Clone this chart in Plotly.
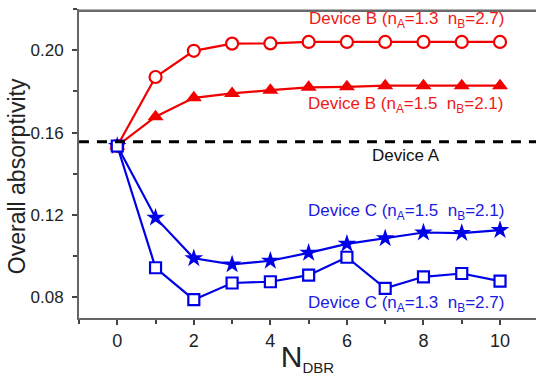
import plotly.graph_objects as go

n_dbr = [0, 1, 2, 3, 4, 5, 6, 7, 8, 9, 10]
device_a = 0.1555
b_13_27 = [0.1535, 0.1870, 0.1997, 0.2032, 0.2033, 0.2040, 0.2040, 0.2040, 0.2040, 0.2040, 0.2040]
b_15_21 = [0.1535, 0.1677, 0.1769, 0.1790, 0.1806, 0.1820, 0.1822, 0.1828, 0.1828, 0.1828, 0.1828]
c_15_21 = [0.1535, 0.1187, 0.0990, 0.0960, 0.0978, 0.1016, 0.1060, 0.1087, 0.1115, 0.1112, 0.1127]
c_13_27 = [0.1535, 0.0944, 0.0789, 0.0870, 0.0876, 0.0908, 0.0995, 0.0844, 0.0900, 0.0916, 0.0879]

labels = [
    ("Device B (n<sub>A</sub>=1.3\u00a0 n<sub>B</sub>=2.7)", 7.55, 0.2145, "#f01818"),
    ("Device B (n<sub>A</sub>=1.5\u00a0 n<sub>B</sub>=2.1)", 7.53, 0.1733, "#f01818"),
    ("Device A", 7.55, 0.1487, "#111111"),
    ("Device C (n<sub>A</sub>=1.5\u00a0 n<sub>B</sub>=2.1)", 7.55, 0.1214, "#1a1ae0"),
    ("Device C (n<sub>A</sub>=1.3\u00a0 n<sub>B</sub>=2.7)", 7.55, 0.0768, "#1a1ae0"),
]

RED = "#f00000"
BLUE = "#0000e6"
FONT = "Liberation Sans, Arial, sans-serif"

fig = go.Figure()
fig.add_hline(y=device_a, line=dict(color="black", width=3, dash="10px,8px"))

fig.add_trace(go.Scatter(x=n_dbr, y=b_15_21, mode="lines+markers",
                         line=dict(color=RED, width=2.2),
                         marker=dict(symbol="triangle-up", size=14, color=RED, line=dict(width=0))))
fig.add_trace(go.Scatter(x=n_dbr, y=b_13_27, mode="lines+markers",
                         line=dict(color=RED, width=2.2),
                         marker=dict(symbol="circle", size=12, color="white", line=dict(color=RED, width=2.2))))
fig.add_trace(go.Scatter(x=n_dbr, y=c_15_21, mode="lines+markers",
                         line=dict(color=BLUE, width=2.2),
                         marker=dict(symbol="star", size=14, color=BLUE, line=dict(width=0))))
fig.add_trace(go.Scatter(x=n_dbr, y=c_13_27, mode="lines+markers",
                         line=dict(color=BLUE, width=2.2),
                         marker=dict(symbol="square", size=11, color="white", line=dict(color=BLUE, width=2.2))))

for text, x, y, col in labels:
    fig.add_annotation(x=x, y=y, xref="x", yref="y", text=text, showarrow=False,
                       font=dict(family=FONT, size=17, color=col), xanchor="center", yanchor="middle")

fig.add_annotation(x=-0.135, y=0.46, xref="paper", yref="paper", text="Overall absorptivity",
                   textangle=-90, showarrow=False, font=dict(family=FONT, size=23, color="#222"),
                   xanchor="center", yanchor="middle")

# frame top edge
fig.add_shape(type="line", xref="paper", yref="paper", x0=-0.002, x1=1.0, y0=0.994, y1=0.994,
              line=dict(color="#6a6a6a", width=2.5), layer="above")

fig.update_layout(
    width=536, height=376,
    margin=dict(l=79, r=0, t=9, b=56),
    plot_bgcolor="white", paper_bgcolor="white",
    showlegend=False,
    font=dict(family=FONT, color="#222"),
)
fig.update_xaxes(range=[-1, 10.94], tickmode="array", tickvals=[0, 2, 4, 6, 8, 10],
                 ticks="outside", ticklen=5, tickwidth=1.5, tickcolor="#444",
                 showline=True, linecolor="#666", linewidth=2, mirror=False,
                 showgrid=False, zeroline=False, tickfont=dict(size=18),
                 minor=dict(dtick=1, tick0=1, ticks="outside", ticklen=4, tickwidth=1.5, tickcolor="#444"),
                 title=dict(text="N<sub><span style='font-size:15px'>DBR</span></sub>",
                            font=dict(size=30), standoff=4))
fig.update_yaxes(range=[0.07, 0.22], tickmode="array", tickvals=[0.08, 0.12, 0.16, 0.20],
                 ticktext=["0.08", "0.12", "0.16", "0.20"],
                 ticks="outside", ticklen=5, tickwidth=1.5, tickcolor="#444",
                 showline=True, linecolor="#666", linewidth=2, mirror=False,
                 showgrid=False, zeroline=False, tickfont=dict(size=17), ticklabelstandoff=5,
                 minor=dict(dtick=0.02, tick0=0.10, ticks="outside", ticklen=4, tickwidth=1.5, tickcolor="#444"))

fig.write_html("out.html", config={"displayModeBar": False})
